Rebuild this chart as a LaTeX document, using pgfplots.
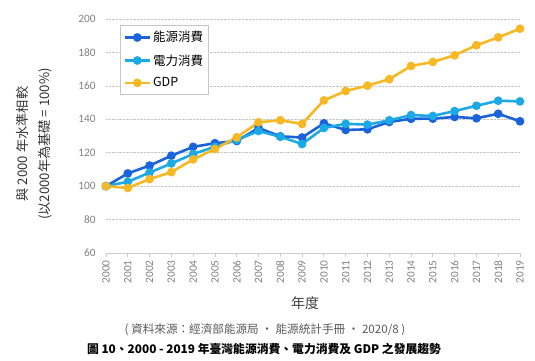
\documentclass[border=0pt]{standalone}
\usepackage{pgfplots}
\pgfplotsset{compat=1.18}
\usepackage{fontspec}
\setmainfont{Carlito}
\newfontfamily\cjk{Noto Sans CJK TC}
\definecolor{cEnergy}{HTML}{1A63DB}
\definecolor{cElec}{HTML}{1CA9E6}
\definecolor{cGDP}{HTML}{F7B825}
\definecolor{tickgray}{HTML}{808080}
\pgfplotstableread{
year energy elec gdp
2000 100.0 100.0 100.0
2001 107.6 102.6 98.9
2002 112.3 108.1 104.2
2003 118.2 113.6 108.4
2004 123.5 119.2 116.0
2005 125.7 123.6 122.2
2006 127.0 127.6 129.2
2007 134.8 133.0 138.2
2008 129.8 129.5 139.4
2009 129.1 125.2 137.2
2010 137.6 134.8 151.3
2011 133.6 137.3 156.9
2012 134.0 136.8 160.1
2013 138.4 139.4 164.0
2014 140.3 142.5 171.9
2015 140.4 142.0 174.3
2016 141.4 144.9 178.3
2017 140.6 148.1 184.3
2018 143.3 151.1 189.0
2019 138.8 150.7 194.2
}\datatable
\begin{document}
\begin{tikzpicture}
\useasboundingbox (0pt,0pt) rectangle (535pt,361pt);
\begin{axis}[
  at={(106pt,108pt)}, anchor=south west,
  scale only axis, width=414pt, height=234pt,
  xmin=2000, xmax=2019, ymin=60, ymax=200,
  xtick={2000,2001,...,2019}, ytick={60,80,...,200},
  /pgf/number format/1000 sep={},
  /pgf/number format/assume math mode=true,
  axis x line*=bottom, axis y line*=left,
  x axis line style={draw=gray!40, line width=0.8pt, -},
  y axis line style={draw=none},
  xtick style={draw=gray!40, line width=0.8pt},
  ytick style={draw=none},
  tick align=outside, major tick length=4pt,
  ymajorgrids, grid style={densely dotted, gray!45, line width=0.7pt},
  tick label style={font=\fontsize{11.3}{13}\selectfont, text=tickgray},
  xticklabel style={rotate=90, anchor=east, xshift=0pt},
  yticklabel style={xshift=-3pt},
  legend style={at={(0.034,0.974)}, anchor=north west, draw=gray!45, line width=0.8pt,
    font=\cjk\fontsize{12.5}{14}\selectfont, row sep=7pt, inner xsep=3pt, inner ysep=4pt},
  legend cell align=left,
  legend image code/.code={\draw[#1, mark repeat=2, mark phase=2] plot coordinates {(0pt,0pt) (12.5pt,0pt) (25pt,0pt)};},
  every axis plot/.append style={line width=2.6pt, mark=*, mark size=3pt, mark options={line width=0pt}},
]
\addplot[color=cEnergy, mark options={fill=cEnergy, draw=cEnergy}] table[x=year, y=energy] {\datatable};
\addlegendentry{能源消費}
\addplot[color=cElec, mark options={fill=cElec, draw=cElec}] table[x=year, y=elec] {\datatable};
\addlegendentry{電力消費}
\addplot[color=cGDP, mark options={fill=cGDP, draw=cGDP}] table[x=year, y=gdp] {\datatable};
\addlegendentry{GDP}
\end{axis}
\node[rotate=90, font=\cjk\fontsize{13.2}{15}\selectfont, text=black!80] at (22pt,217pt) {與 2000 年水準相較};
\node[rotate=90, font=\cjk\fontsize{13.2}{15}\selectfont, text=black!80] at (45pt,217pt) {(以2000年為基礎 = 100\%)};
\node[font=\cjk\fontsize{14}{16}\selectfont, text=black!75] at (305pt,58pt) {年度};
\node[font=\cjk\fontsize{11.6}{13}\selectfont, text=black!65] at (265pt,31pt) {( 資料來源：經濟部能源局 ‧ 能源統計手冊 ‧ 2020/8 )};
\node[font=\cjk\bfseries\fontsize{11.8}{13}\selectfont, text=black] at (264pt,12pt) {圖 10、2000 - 2019 年臺灣能源消費、電力消費及 GDP 之發展趨勢};
\end{tikzpicture}
\end{document}
